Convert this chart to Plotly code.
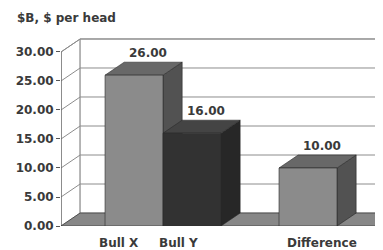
import plotly.graph_objects as go

# ---- data ----
categories = ["Bull X", "Bull Y", "Difference"]
positions = [0, 1, 3]
values = [26.00, 16.00, 10.00]
y_ticks = [0, 5, 10, 15, 20, 25, 30]
y_tick_labels = ["0.00", "5.00", "10.00", "15.00", "20.00", "25.00", "30.00"]
title_text = "$B, $ per head"

# ---- style ----
front_cols = ["#8b8b8b", "#323232", "#8b8b8b"]
top_cols = ["#686868", "#444444", "#686868"]
side_cols = ["#525252", "#272727", "#525252"]
edge = "#2a2a2a"
grid_col = "#8c8c8c"
txt_col = "#3a3a3a"
font_fam = "DejaVu Sans"
bar_w = 1.0
dx, dy = 0.33, 2.24          # depth offset in axis units
x_range = [-1.259, 4.293]
y_range = [0, 33.1]
x0, x1 = x_range

fig = go.Figure()

def poly(xs, ys, fill, line_col=edge, lw=0.6):
    fig.add_trace(go.Scatter(x=xs + [xs[0]], y=ys + [ys[0]], mode="lines",
                             fill="toself", fillcolor=fill,
                             line=dict(color=line_col, width=lw),
                             hoverinfo="skip", showlegend=False))

def line(xs, ys, col=grid_col, lw=1):
    fig.add_trace(go.Scatter(x=xs, y=ys, mode="lines",
                             line=dict(color=col, width=lw),
                             hoverinfo="skip", showlegend=False))

top = y_ticks[-1]
# walls (white) with gridlines
poly([x0, x0 + dx, x0 + dx, x0], [0, dy, top + dy, top], "white", grid_col, 1)
poly([x0 + dx, x1 + 0.5, x1 + 0.5, x0 + dx], [dy, dy, top + dy, top + dy], "white", grid_col, 1)
for t in y_ticks[1:]:
    line([x0, x0 + dx, x1 + 0.5], [t, t + dy, t + dy])
# front y axis line
line([x0, x0], [0, top], "#555555", 1)
# floor
poly([x0, x0 + dx, x1 + 0.5, x1 + 0.5], [0, dy, dy, 0], "#878787")

# bars (side + top faces, then front face)
for p, v, fc, tc, sc in zip(positions, values, front_cols, top_cols, side_cols):
    l, r = p - bar_w / 2, p + bar_w / 2
    poly([r, r + dx, r + dx, r], [0, dy, v + dy, v], sc)
    poly([l, l + dx, r + dx, r], [v, v + dy, v + dy, v], tc)
    poly([l, r, r, l], [0, 0, v, v], fc)

# value labels
for p, v in zip(positions, values):
    fig.add_annotation(x=p + dx / 2, y=v + dy, text=f"<b>{v:.2f}</b>", showarrow=False,
                       xanchor="center", yanchor="bottom", yshift=0, xshift=4,
                       font=dict(family=font_fam, size=12, color=txt_col))

# category labels
cat_shift = [-15, -14, 14]
for p, c, s in zip(positions, categories, cat_shift):
    fig.add_annotation(x=p, y=0, text=f"<b>{c}</b>", showarrow=False, xanchor="center",
                       yanchor="middle", yshift=-17, xshift=s,
                       font=dict(family=font_fam, size=12, color=txt_col))

fig.add_annotation(x=0, y=1, xref="paper", yref="paper", text=f"<b>{title_text}</b>",
                   showarrow=False, xanchor="left", yanchor="middle",
                   xshift=-46, yshift=16,
                   font=dict(family=font_fam, size=12, color=txt_col))

fig.update_layout(
    width=375, height=242,
    margin=dict(l=53, r=0, t=26, b=24),
    paper_bgcolor="white", plot_bgcolor="white",
    xaxis=dict(range=x_range, showgrid=False, zeroline=False, showline=False,
               showticklabels=False, ticks=""),
    yaxis=dict(range=y_range, tickvals=y_ticks, ticktext=[f"<b>{t}</b>" for t in y_tick_labels],
               showgrid=False, zeroline=False, showline=False,
               ticks="outside", ticklen=4, tickcolor="#555555",
               tickfont=dict(family=font_fam, size=12, color=txt_col)),
)
fig.write_html("out.html")
